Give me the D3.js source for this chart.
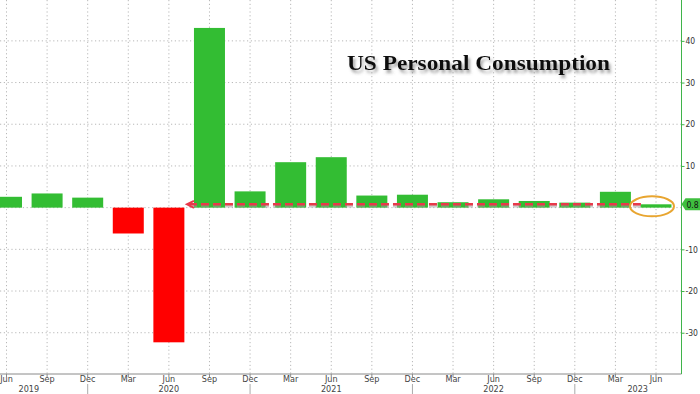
<!DOCTYPE html>
<html>
<head>
<meta charset="utf-8">
<script src="https://cdn.jsdelivr.net/npm/d3@7"></script>
<style>
  body { margin: 0; background: #fff; }
  svg { display: block; }
</style>
</head>
<body>
<div id="chart"></div>
<script>
// quarterly data, QoQ annualized %
const quarters = ['Jun','Sep','Dec','Mar','Jun','Sep','Dec','Mar','Jun','Sep','Dec','Mar','Jun','Sep','Dec','Mar','Jun'];
const values = [2.6, 3.4, 2.4, -6.2, -32.3, 43.1, 3.9, 10.9, 12.1, 2.9, 3.1, 1.3, 2.0, 1.6, 1.2, 3.8, 0.8];
const years = ['2019','2020','2021','2022','2023'];
const yearCenters = [0.55, 4, 8, 12, 15.55];   // in quarter index units
const yearBreaks = [2, 6, 10, 14];            // separators under Dec
const yTicks = [-30, -20, -10, 10, 20, 30, 40];
const gridY = [-30, -20, -10, 0, 10, 20, 30, 40];
const lastValue = 0.8;

const width = 700, height = 394;
const plotRight = 681.5, plotBottom = 374;

const svg = d3.select('#chart').append('svg')
  .attr('width', width)
  .attr('height', height);

// title shadow
const defs = svg.append('defs');
defs.append('filter').attr('id', 'shadow')
  .attr('x', '-10%').attr('y', '-30%').attr('width', '120%').attr('height', '160%')
  .append('feDropShadow')
  .attr('dx', 2).attr('dy', 3).attr('stdDeviation', 1.6)
  .attr('flood-color', '#555').attr('flood-opacity', 0.55);
defs.append('clipPath').attr('id', 'plot')
  .append('rect').attr('x', 0).attr('y', 0).attr('width', plotRight).attr('height', plotBottom);

// scales
const x = d3.scaleLinear().domain([0, quarters.length - 1]).range([6.5, 656]);
const y = d3.scaleLinear().domain([-39.9, 49.8]).range([plotBottom, 0]);
const barW = 31;

// grid
const grid = svg.append('g').attr('stroke', '#b8b8b8').attr('stroke-dasharray', '1.2,2.6');
grid.selectAll('.gx').data(quarters).enter().append('line')
  .attr('x1', (d, i) => x(i)).attr('x2', (d, i) => x(i))
  .attr('y1', 0).attr('y2', plotBottom);
grid.selectAll('.gy').data(gridY).enter().append('line')
  .attr('x1', 0).attr('x2', plotRight)
  .attr('y1', d => y(d)).attr('y2', d => y(d));

// bars
svg.append('g').attr('clip-path', 'url(#plot)')
  .selectAll('rect').data(values).enter().append('rect')
  .attr('x', (d, i) => x(i) - barW / 2)
  .attr('width', barW)
  .attr('y', d => y(Math.max(0, d)))
  .attr('height', d => Math.abs(y(d) - y(0)))
  .attr('fill', d => d < 0 ? '#ff0000' : '#33bd33');

// dashed reference line at latest value, with arrow to the left
const ly = y(lastValue);
const x0 = x(5) - barW / 2 - 7, x1 = x(15) + barW / 2 + 10;
svg.append('line')
  .attr('x1', x0 + 2).attr('x2', x1).attr('y1', ly + 2).attr('y2', ly + 2)
  .attr('stroke', '#999').attr('stroke-opacity', 0.5).attr('stroke-width', 2.5)
  .attr('stroke-dasharray', '8,4');
svg.append('line')
  .attr('x1', x0 + 2).attr('x2', x1).attr('y1', ly).attr('y2', ly)
  .attr('stroke', '#e8394a').attr('stroke-width', 2.5)
  .attr('stroke-dasharray', '8,4');
svg.append('path')
  .attr('d', `M${x0 + 7},${ly - 3.5} L${x0},${ly} L${x0 + 7},${ly + 3.5}`)
  .attr('fill', 'none').attr('stroke', '#e8394a').attr('stroke-width', 2);

// highlight ellipse on last bar
svg.append('ellipse')
  .attr('cx', x(16) - 4).attr('cy', ly + 2)
  .attr('rx', 22).attr('ry', 10)
  .attr('fill', 'none').attr('stroke', '#e8a530').attr('stroke-width', 2);

// bottom axis
svg.append('line')
  .attr('x1', 0).attr('x2', plotRight).attr('y1', plotBottom).attr('y2', plotBottom)
  .attr('stroke', '#8a8a8a').attr('stroke-width', 1);

const labelFont = '"Liberation Sans Narrow", "DejaVu Sans Condensed", sans-serif';

svg.append('g').selectAll('line').data(quarters).enter().append('line')
  .attr('x1', (d, i) => x(i)).attr('x2', (d, i) => x(i))
  .attr('y1', plotBottom).attr('y2', plotBottom + 3)
  .attr('stroke', '#8a8a8a');

svg.append('g').selectAll('text').data(quarters).enter().append('text')
  .attr('x', (d, i) => x(i))
  .attr('y', 382)
  .attr('text-anchor', 'middle')
  .style('font-family', labelFont).style('font-size', '9px').attr('fill', '#444')
  .text(d => d);

svg.append('g').selectAll('text').data(years).enter().append('text')
  .attr('x', (d, i) => x(yearCenters[i]))
  .attr('y', 392)
  .attr('text-anchor', 'middle')
  .style('font-family', labelFont).style('font-size', '9px').attr('fill', '#444')
  .text(d => d);

svg.append('g').selectAll('line').data(yearBreaks).enter().append('line')
  .attr('x1', d => x(d)).attr('x2', d => x(d))
  .attr('y1', 384).attr('y2', height)
  .attr('stroke', '#aaa');

// right axis
const yAxis = svg.append('g')
  .attr('transform', `translate(${plotRight},0)`)
  .call(d3.axisRight(y).tickValues(yTicks).tickSize(3).tickFormat(d => String(d)));
yAxis.select('.domain').attr('stroke', '#3fb34a').attr('d', `M0,0V${plotBottom}`);
yAxis.selectAll('.tick line').attr('stroke', '#3fb34a');
yAxis.selectAll('.tick text')
  .attr('x', 4)
  .style('font-family', labelFont).style('font-size', '8.5px').attr('fill', '#333');

// last value flag
svg.append('path')
  .attr('d', `M${plotRight},${ly} L${plotRight + 4},${ly - 6} H${width} V${ly + 6} H${plotRight + 4} Z`)
  .attr('fill', '#3fbf3f');
svg.append('text')
  .attr('x', plotRight + 5).attr('y', ly + 3.5)
  .style('font-family', labelFont).style('font-size', '8.5px').attr('fill', '#111')
  .text(lastValue);

// title
svg.append('text')
  .attr('x', 347).attr('y', 70)
  .attr('textLength', 263).attr('lengthAdjust', 'spacingAndGlyphs')
  .style('font-family', '"Liberation Serif", "DejaVu Serif", serif')
  .style('font-weight', 'bold').style('font-size', '22px')
  .attr('fill', '#111')
  .attr('filter', 'url(#shadow)')
  .text('US Personal Consumption');
</script>
</body>
</html>
